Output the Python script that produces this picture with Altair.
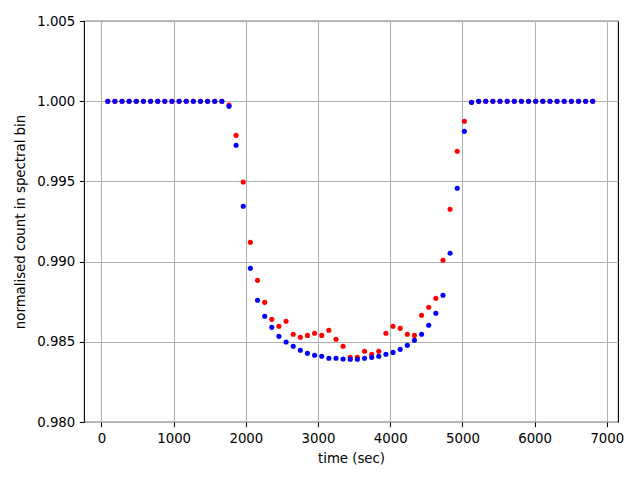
import altair as alt
import pandas as pd

times = [87, 186, 285, 383, 482, 581, 680, 779, 877, 976, 1075, 1174, 1273, 1371,
         1470, 1569, 1668, 1767, 1865, 1964, 2063, 2162, 2261, 2359, 2458, 2557,
         2656, 2755, 2853, 2952, 3051, 3150, 3249, 3347, 3446, 3545, 3644, 3743,
         3841, 3940, 4039, 4138, 4237, 4335, 4434, 4533, 4632, 4731, 4829, 4928,
         5027, 5126, 5225, 5323, 5422, 5521, 5620, 5719, 5817, 5916, 6015, 6114,
         6213, 6311, 6410, 6509, 6608, 6707, 6805]

red_vals = [1.0] * 17 + [
    0.99976, 0.99787, 0.99496, 0.99120, 0.98883, 0.98746, 0.98640, 0.98597,
    0.98628, 0.98547, 0.98528, 0.98540, 0.98553, 0.98540, 0.98572, 0.98516,
    0.98472, 0.98403, 0.98403, 0.98441, 0.98422, 0.98441, 0.98553, 0.98597,
    0.98584, 0.98547, 0.98540, 0.98665, 0.98715, 0.98771, 0.99008, 0.99326,
    0.99688, 0.99875, 0.99993] + [1.0] * 17

blue_vals = [1.0] * 17 + [
    0.99968, 0.99725, 0.99345, 0.98958, 0.98759, 0.98659, 0.98590, 0.98534,
    0.98499, 0.98472, 0.98447, 0.98428, 0.98416, 0.98410, 0.98397, 0.98397,
    0.98393, 0.98391, 0.98391, 0.98397, 0.98403, 0.98410, 0.98422, 0.98434,
    0.98453, 0.98478, 0.98509, 0.98547, 0.98603, 0.98678, 0.98790, 0.99052,
    0.99457, 0.99812, 0.99993] + [1.0] * 17

x_ticks = [0, 1000, 2000, 3000, 4000, 5000, 6000, 7000]
y_ticks = [0.980, 0.985, 0.990, 0.995, 1.000, 1.005]

red_df = pd.DataFrame({"t": times, "v": red_vals})
blue_df = pd.DataFrame({"t": times, "v": blue_vals})

xenc = alt.X("t:Q", scale=alt.Scale(domain=[-242, 7155], nice=False, zero=False),
             axis=alt.Axis(values=x_ticks, title="time (sec)", format="d", titlePadding=7))
yenc = alt.Y("v:Q", scale=alt.Scale(domain=[0.980, 1.005], nice=False, zero=False),
             axis=alt.Axis(values=y_ticks, title="normalised count in spectral bin",
                           format=".3f", titlePadding=9))

red = alt.Chart(red_df).mark_circle(size=26, opacity=1, color="#ff0000").encode(x=xenc, y=yenc)
blue = alt.Chart(blue_df).mark_circle(size=26, opacity=1, color="#0000ff").encode(x=xenc, y=yenc)

chart = alt.layer(red, blue).properties(
    width=534, height=401,
    autosize=alt.AutoSizeParams(type="none"),
    padding={"left": 76, "top": 13, "right": 10, "bottom": 50},
    background="white",
).configure_view(stroke="black", strokeWidth=1.1).configure_axis(
    domain=False,
    grid=True,
    gridColor="#b0b0b0",
    gridWidth=1.07,
    tickColor="black",
    tickWidth=1.07,
    tickSize=4.7,
    labelPadding=4.5,
    labelFont="DejaVu Sans",
    labelFontSize=13.3,
    labelColor="black",
    titleFont="DejaVu Sans",
    titleFontSize=13.3,
    titleFontWeight="normal",
    titleColor="black",
    titlePadding=5,
)

chart.save("out.html", embed_options={"renderer": "svg", "actions": False})
